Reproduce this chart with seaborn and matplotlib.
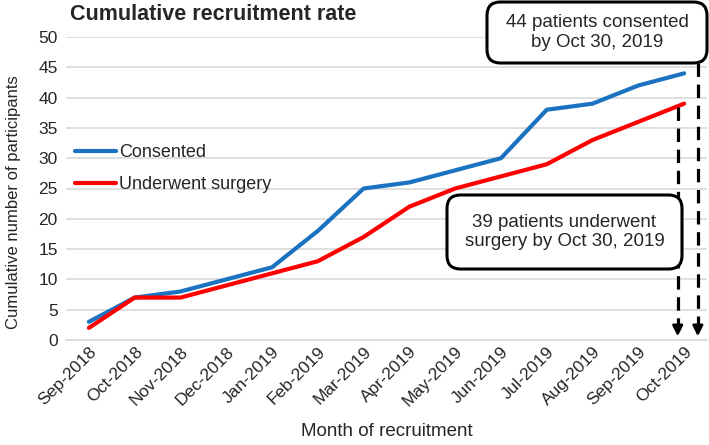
import matplotlib
matplotlib.use("Agg")
import matplotlib.pyplot as plt
from matplotlib.patches import FancyBboxPatch
import seaborn as sns
import pandas as pd

months = ["Sep-2018", "Oct-2018", "Nov-2018", "Dec-2018", "Jan-2019", "Feb-2019",
          "Mar-2019", "Apr-2019", "May-2019", "Jun-2019", "Jul-2019", "Aug-2019",
          "Sep-2019", "Oct-2019"]
consented = [3, 7, 8, 10, 12, 18, 25, 26, 28, 30, 38, 39, 42, 44]
surgery = [2, 7, 7, 9, 11, 13, 17, 22, 25, 27, 29, 33, 36, 39]
series_names = ["Consented", "Underwent surgery"]
colors = ["#1a72c0", "#ff0000"]

sns.set_style("white")
plt.rcParams["font.family"] = ["Liberation Sans", "DejaVu Sans"]

df = pd.DataFrame({
    "month": months * 2,
    "value": consented + surgery,
    "series": [series_names[0]] * len(months) + [series_names[1]] * len(months),
})

W, H = 709, 445
fig = plt.figure(figsize=(W / 100, H / 100), dpi=100)
ax = fig.add_axes([66 / W, 1 - 340 / H, 641 / W, 303 / H])

sns.lineplot(data=df, x="month", y="value", hue="series", palette=colors,
             linewidth=3, ax=ax, sort=False)

ax.set_xlim(-0.5, len(months) - 0.5)
ax.set_ylim(0, 50)
ax.set_yticks(range(0, 51, 5))
ax.yaxis.grid(True, color="#d9d9d9", linewidth=1.2)
ax.set_axisbelow(True)
for s in ["left", "right", "top"]:
    ax.spines[s].set_visible(False)
ax.spines["bottom"].set_color("#d9d9d9")
ax.spines["bottom"].set_linewidth(1.2)
ax.tick_params(length=0, labelsize=12.5, pad=6)
ax.tick_params(axis="x", labelsize=12.5, pad=3)
plt.setp(ax.get_xticklabels(), rotation=45, ha="right", rotation_mode="anchor")
ax.set_xlabel("Month of recruitment", fontsize=13.5, labelpad=10)
ax.set_ylabel("Cumulative number of participants", fontsize=12)
ax.yaxis.set_label_coords(-0.07, 0.455)

ax.legend(loc="upper left", bbox_to_anchor=(-0.012, 0.7), frameon=False,
          fontsize=13, handlelength=2.3, handletextpad=0.15, labelspacing=0.85)

fig.text(70 / W, 1 - 14 / H, "Cumulative recruitment rate", fontsize=15.5,
         fontweight="bold", va="center")

# dashed arrows down to the axis at the last month
last = len(months) - 1
x_cons = last + 0.3
x_surg = last - 0.14
arrow_kw = dict(color="black", linewidth=2.3, linestyle=(0, (4.2, 2.4)))
ax.plot([x_cons, x_cons], [45.7, 1.0], clip_on=False, **arrow_kw)
ax.plot([x_surg, x_surg], [surgery[-1] - 0.5, 1.0], clip_on=False, **arrow_kw)
for xa in [x_cons, x_surg]:
    ax.annotate("", xy=(xa, 0.15), xytext=(xa, 2.5),
                arrowprops=dict(arrowstyle="-|>", color="black", lw=2,
                                mutation_scale=15), annotation_clip=False)

# rounded callout boxes (pixel extents)
def callout(x0, y0, x1, y1, text):
    fig.add_artist(FancyBboxPatch(
        (x0 / W, 1 - y1 / H), (x1 - x0) / W, (y1 - y0) / H,
        boxstyle="round,pad=0,rounding_size=0.019", mutation_aspect=W / H,
        transform=fig.transFigure, facecolor="white", edgecolor="black",
        linewidth=2.2, zorder=5))
    fig.text((x0 + x1) / 2 / W, 1 - (y0 + y1) / 2 / H, text, ha="center",
             va="center", fontsize=13.5, linespacing=1.2, zorder=6)

callout(487, 2, 707, 63, f"{consented[-1]} patients consented\nby Oct 30, 2019")
callout(447, 195, 682, 269, f"{surgery[-1]} patients underwent\nsurgery by Oct 30, 2019")

fig.savefig("out.png", dpi=100)
